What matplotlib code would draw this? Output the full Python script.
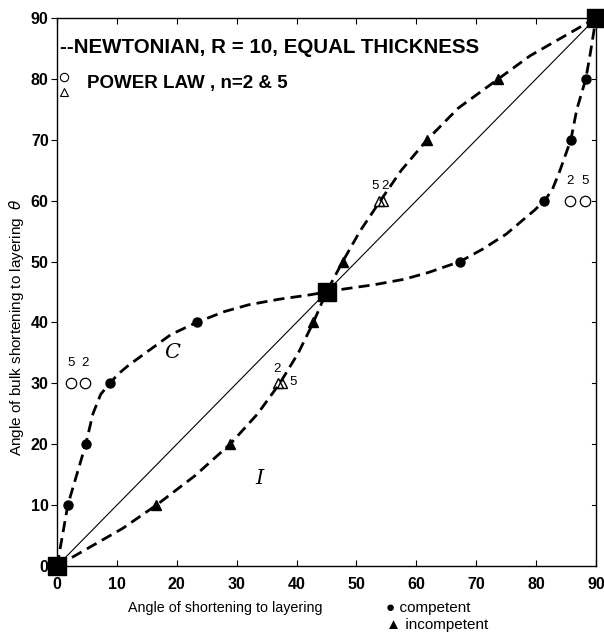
import matplotlib
matplotlib.use("Agg")
import matplotlib.pyplot as plt

# ---------------- data ----------------
# Newtonian model points (filled markers)
comp_x = [1.8, 4.8, 8.8, 23.3, 67.3, 81.4, 85.8, 88.3]
comp_y = [10, 20, 30, 40, 50, 60, 70, 80]
incomp_x = [16.6, 28.9, 42.8, 47.7, 61.8, 73.7]
incomp_y = [10, 20, 40, 50, 70, 80]

# dashed curves
comp_curve_x = [0, 1.0, 1.8, 3.3, 4.8, 6.0, 7.3, 8.8, 10.3, 12, 15.5, 19, 23.3, 28, 32, 37, 42, 45,
                48, 53, 58, 62, 67.3, 71, 75, 78, 79.7, 81.4, 82.7, 84, 85.8, 86.8, 88.3, 89.1, 90]
comp_curve_y = [0, 5.5, 10, 15, 20, 25, 28.2, 30, 31.6, 33, 35.5, 38, 40, 41.8, 42.9, 43.8, 44.5, 45,
                45.5, 46.2, 47.1, 48.2, 50, 52, 54.5, 57, 58.4, 60, 61.8, 65, 70, 75, 80, 84.5, 90]
incomp_curve_x = [0, 5.5, 11, 16.6, 23, 28.9, 33.5, 37.2, 40.3, 42.8, 45,
                  47.7, 50.6, 54.0, 57.5, 61.8, 67, 73.7, 79, 84.5, 90]
incomp_curve_y = [0, 3.1, 6.2, 10, 14.8, 20, 25, 30, 35, 40, 45,
                  50, 55, 60, 65, 70, 75.2, 80, 83.8, 86.9, 90]

# end / centre points (squares)
sq_x = [0, 45, 90]
sq_y = [0, 45, 90]

# power law points (open markers), n values
pl_circ_x = [2.3, 4.7, 85.7, 88.2]
pl_circ_y = [30, 30, 60, 60]
pl_circ_n = ["5", "2", "2", "5"]
pl_tri_x = [36.9, 37.6, 53.7, 54.4]
pl_tri_y = [30, 30, 60, 60]
pl_tri_n = ["2", "5", "5", "2"]

xticks = [0, 10, 20, 30, 40, 50, 60, 70, 80, 90]
yticks = [0, 10, 20, 30, 40, 50, 60, 70, 80, 90]

# ---------------- figure ----------------
plt.rcParams['font.family'] = ['Liberation Sans', 'DejaVu Sans']
fig = plt.figure(figsize=(6.04, 6.34), dpi=100)
ax = fig.add_axes([57/604, 1-566/634, (596-57)/604, (566-18)/634])
ax.set_xlim(0, 90)
ax.set_ylim(0, 90)

# diagonal
ax.plot([0, 90], [0, 90], color='black', lw=0.8, zorder=2)

# curves
ax.plot(comp_curve_x, comp_curve_y, color='black', lw=2.0, dashes=(4, 2.2), zorder=3)
ax.plot(incomp_curve_x, incomp_curve_y, color='black', lw=2.0, dashes=(4, 2.2), zorder=3)

# newtonian markers
ax.plot(comp_x, comp_y, 'o', color='black', ms=6.5, ls='none', zorder=4)
ax.plot(incomp_x, incomp_y, '^', color='black', ms=7, ls='none', zorder=4)

# squares
ax.plot(sq_x, sq_y, 's', color='black', ms=13, ls='none', zorder=5, clip_on=False)

# power law
ax.plot(pl_circ_x, pl_circ_y, 'o', mfc='white', mec='black', mew=0.9, ms=7.5, ls='none', zorder=4)
ax.plot(pl_tri_x, pl_tri_y, '^', mfc='none', mec='black', mew=1.0, ms=7.5, ls='none', zorder=4)

for x, y, n in zip(pl_circ_x, pl_circ_y, pl_circ_n):
    ax.text(x, y + 2.3, n, ha='center', va='bottom', fontsize=9.5)
# triangles labels
ax.text(pl_tri_x[0] - 0.2, pl_tri_y[0] + 1.3, pl_tri_n[0], ha='center', va='bottom', fontsize=9.5)
ax.text(pl_tri_x[1] + 1.2, pl_tri_y[1] + 0.3, pl_tri_n[1], ha='left', va='center', fontsize=9.5)
ax.text(pl_tri_x[2] - 0.6, pl_tri_y[2] + 1.5, pl_tri_n[2], ha='center', va='bottom', fontsize=9.5)
ax.text(pl_tri_x[3] + 0.4, pl_tri_y[3] + 1.5, pl_tri_n[3], ha='center', va='bottom', fontsize=9.5)

# curve labels
ax.text(19.3, 35.1, 'C', fontsize=15, style='italic', family='DejaVu Serif', ha='center', va='center')
ax.text(33.8, 14.4, 'I', fontsize=15, style='italic', family='DejaVu Serif', ha='center', va='center')

# legend texts
ax.text(0.5, 85.2, '--NEWTONIAN, R = 10, EQUAL THICKNESS', fontsize=14.8, fontweight='bold',
        ha='left', va='center')
ax.plot([1.2], [80.3], 'o', mfc='white', mec='black', mew=0.8, ms=6, clip_on=False)
ax.plot([1.2], [77.8], '^', mfc='white', mec='black', mew=0.8, ms=6, clip_on=False)
ax.text(5.0, 79.3, 'POWER LAW , n=2 & 5', fontsize=13.5, fontweight='bold', ha='left', va='center')

# ticks
ax.set_xticks(xticks)
ax.set_yticks(yticks)
ax.tick_params(axis='x', direction='in', top=True, length=4, width=0.8, labelsize=11.5, pad=8)
ax.tick_params(axis='y', direction='out', right=False, length=4, width=0.8, labelsize=11.5, pad=2)
for lab in ax.get_xticklabels() + ax.get_yticklabels():
    lab.set_fontweight('bold')
for y in yticks[1:-1]:
    ax.plot([90, 89.3], [y, y], color='black', lw=0.8, clip_on=False)

for s in ax.spines.values():
    s.set_linewidth(1.0)

fig.text(17/604, 1-327/634, r'Angle of bulk shortening to layering  $\theta$', fontsize=11,
         rotation=90, ha='center', va='center')
fig.text(225/604, 1-608/634, 'Angle of shortening to layering', fontsize=10.3, ha='center', va='center')
fig.text(386/604, 1-608/634, '\u25CF competent', fontsize=11, ha='left', va='center')
fig.text(386/604, 1-625/634, '\u25B2 incompetent', fontsize=11, ha='left', va='center')

fig.savefig('out.png', dpi=100)
